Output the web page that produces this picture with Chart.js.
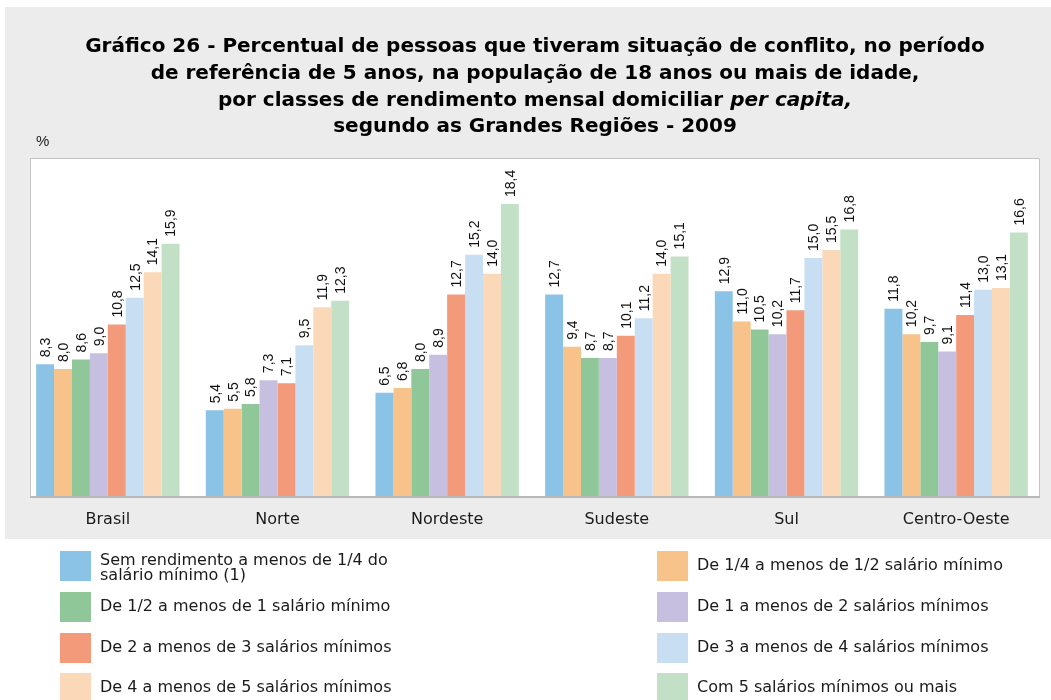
<!DOCTYPE html>
<html>
<head>
<meta charset="utf-8">
<title>Gráfico 26</title>
<script src="https://cdn.jsdelivr.net/npm/chart.js@4.4.1/dist/chart.umd.min.js"></script>
<style>
  html, body { margin: 0; padding: 0; background: #fff; }
  canvas { display: block; }
</style>
</head>
<body>
<canvas id="bar-chart" width="1051" height="700"></canvas>
<script>
// Regions (categories)
var regions = ["Brasil", "Norte", "Nordeste", "Sudeste", "Sul", "Centro-Oeste"];

// Income classes (series), "\n" marks a legend line break
var seriesLabels = [
  "Sem rendimento a menos de 1/4 do\nsalário mínimo (1)",
  "De 1/4 a menos de 1/2 salário mínimo",
  "De 1/2 a menos de 1 salário mínimo",
  "De 1 a menos de 2 salários mínimos",
  "De 2 a menos de 3 salários mínimos",
  "De 3 a menos de 4 salários mínimos",
  "De 4 a menos de 5 salários mínimos",
  "Com 5 salários mínimos ou mais"
];

// Values per series, one value per region
var semRendimento = [8.3, 5.4, 6.5, 12.7, 12.9, 11.8];
var quartoMeio    = [8.0, 5.5, 6.8, 9.4, 11.0, 10.2];
var meioUm        = [8.6, 5.8, 8.0, 8.7, 10.5, 9.7];
var umDois        = [9.0, 7.3, 8.9, 8.7, 10.2, 9.1];
var doisTres      = [10.8, 7.1, 12.7, 10.1, 11.7, 11.4];
var tresQuatro    = [12.5, 9.5, 15.2, 11.2, 15.0, 13.0];
var quatroCinco   = [14.1, 11.9, 14.0, 14.0, 15.5, 13.1];
var cincoOuMais   = [15.9, 12.3, 18.4, 15.1, 16.8, 16.6];

var seriesValues = [semRendimento, quartoMeio, meioUm, umDois, doisTres, tresQuatro, quatroCinco, cincoOuMais];

var colors = ["#8bc3e6", "#f8c38a", "#8fc798", "#c7bfdf", "#f29a7a", "#c8dff3", "#fbd8b8", "#c2e0c5"];

var titleLines = [
  "Gráfico 26 - Percentual de pessoas que tiveram situação de conflito, no período",
  "de referência de 5 anos, na população de 18 anos ou mais de idade,",
  ["por classes de rendimento mensal domiciliar ", "per capita,"],
  "segundo as Grandes Regiões - 2009"
];

var SANS = '"DejaVu Sans", sans-serif';
var ARIAL = '"Liberation Sans", Arial, sans-serif';

//Background: gray frame, white plot panel with border
var backgroundPlugin = {
  id: 'background',
  beforeDraw: function(chart) {
    var ctx = chart.ctx;
    ctx.save();
    ctx.fillStyle = '#ffffff';
    ctx.fillRect(0, 0, chart.width, chart.height);
    ctx.fillStyle = '#ebeceb';
    ctx.fillRect(5, 7, chart.width - 5, 532);
    var left = 30, top = chart.chartArea.top, right = 1040, bottom = chart.chartArea.bottom;
    ctx.fillStyle = '#ffffff';
    ctx.fillRect(left, top, right - left, bottom - top);
    ctx.strokeStyle = '#c4c4c4';
    ctx.lineWidth = 1;
    ctx.beginPath();
    ctx.moveTo(left + 0.5, bottom);
    ctx.lineTo(left + 0.5, top + 0.5);
    ctx.lineTo(right - 0.5, top + 0.5);
    ctx.lineTo(right - 0.5, bottom);
    ctx.stroke();
    ctx.restore();
  },
  afterDatasetsDraw: function(chart) {
    var ctx = chart.ctx;
    ctx.save();
    ctx.strokeStyle = '#b8b8b8';
    ctx.lineWidth = 2;
    ctx.beginPath();
    ctx.moveTo(30, chart.chartArea.bottom + 1);
    ctx.lineTo(1040, chart.chartArea.bottom + 1);
    ctx.stroke();
    ctx.restore();
  }
};

//Rotated value labels above each bar
var valueLabelPlugin = {
  id: 'valueLabels',
  afterDatasetsDraw: function(chart) {
    var ctx = chart.ctx;
    ctx.save();
    ctx.font = '14px ' + ARIAL;
    ctx.fillStyle = '#111111';
    ctx.textAlign = 'left';
    ctx.textBaseline = 'middle';
    chart.data.datasets.forEach(function(ds, i) {
      var meta = chart.getDatasetMeta(i);
      meta.data.forEach(function(bar, j) {
        var txt = ds.data[j].toFixed(1).replace('.', ',');
        ctx.save();
        ctx.translate(bar.x + 1, bar.y - 7);
        ctx.rotate(-Math.PI / 2);
        ctx.fillText(txt, 0, 0);
        ctx.restore();
      });
    });
    ctx.restore();
  }
};

//Title, unit and legend
var annotationPlugin = {
  id: 'annotations',
  afterDraw: function(chart) {
    var ctx = chart.ctx;
    var cx = 535;
    var ys = [47, 74, 101, 127];
    ctx.save();
    ctx.fillStyle = '#000000';
    ctx.textBaseline = 'middle';
    titleLines.forEach(function(line, i) {
      if (Array.isArray(line)) {
        ctx.font = 'bold 20px ' + SANS;
        var w1 = ctx.measureText(line[0]).width;
        ctx.font = 'italic bold 20px ' + SANS;
        var w2 = ctx.measureText(line[1]).width;
        var x0 = cx - (w1 + w2) / 2;
        ctx.textAlign = 'left';
        ctx.font = 'bold 20px ' + SANS;
        ctx.fillText(line[0], x0, ys[i]);
        ctx.font = 'italic bold 20px ' + SANS;
        ctx.fillText(line[1], x0 + w1, ys[i]);
      } else {
        ctx.textAlign = 'center';
        ctx.font = 'bold 20px ' + SANS;
        ctx.fillText(line, cx, ys[i]);
      }
    });

    ctx.font = '15px ' + ARIAL;
    ctx.textAlign = 'left';
    ctx.fillStyle = '#222222';
    ctx.fillText('%', 36, 142);

    //Legend: two columns, row-major
    var colX = [60, 657];
    var rowY = [551, 592, 633, 673];
    ctx.font = '16px ' + SANS;
    chart.data.datasets.forEach(function(ds, i) {
      var col = i % 2, row = Math.floor(i / 2);
      var x = colX[col], y = rowY[row];
      ctx.fillStyle = ds.backgroundColor;
      ctx.fillRect(x, y, 31, 30);
      ctx.fillStyle = '#1a1a1a';
      var lines = seriesLabels[i].split('\n');
      if (lines.length === 1) {
        ctx.fillText(lines[0], x + 40, y + 15);
      } else {
        ctx.fillText(lines[0], x + 40, y + 10);
        ctx.fillText(lines[1], x + 40, y + 25);
      }
    });
    ctx.restore();
  }
};

var datasets = seriesValues.map(function(vals, i) {
  return {
    label: seriesLabels[i].replace('\n', ' '),
    data: vals,
    backgroundColor: colors[i],
    borderWidth: 0
  };
});

var ctx = document.getElementById("bar-chart");

var chart = new Chart(ctx, {
  type: 'bar',
  data: {
    labels: regions,
    datasets: datasets
  },
  options: {
    responsive: false,
    animation: false,
    devicePixelRatio: 1,
    categoryPercentage: 0.845,
    barPercentage: 1.0,
    layout: {
      padding: { left: 23, right: 10, top: 158, bottom: 160 }
    },
    plugins: {
      legend: { display: false },
      title: { display: false },
      tooltip: { enabled: false }
    },
    scales: {
      x: {
        grid: { display: false, drawTicks: false },
        border: { display: false },
        ticks: {
          color: '#1a1a1a',
          font: { family: '"DejaVu Sans", sans-serif', size: 16 },
          padding: 14,
          maxRotation: 0
        },
        afterFit: function(scale) { scale.height = 44; }
      },
      y: {
        display: false,
        min: 0,
        max: 21.3
      }
    }
  },
  plugins: [backgroundPlugin, valueLabelPlugin, annotationPlugin]
});
</script>
</body>
</html>
